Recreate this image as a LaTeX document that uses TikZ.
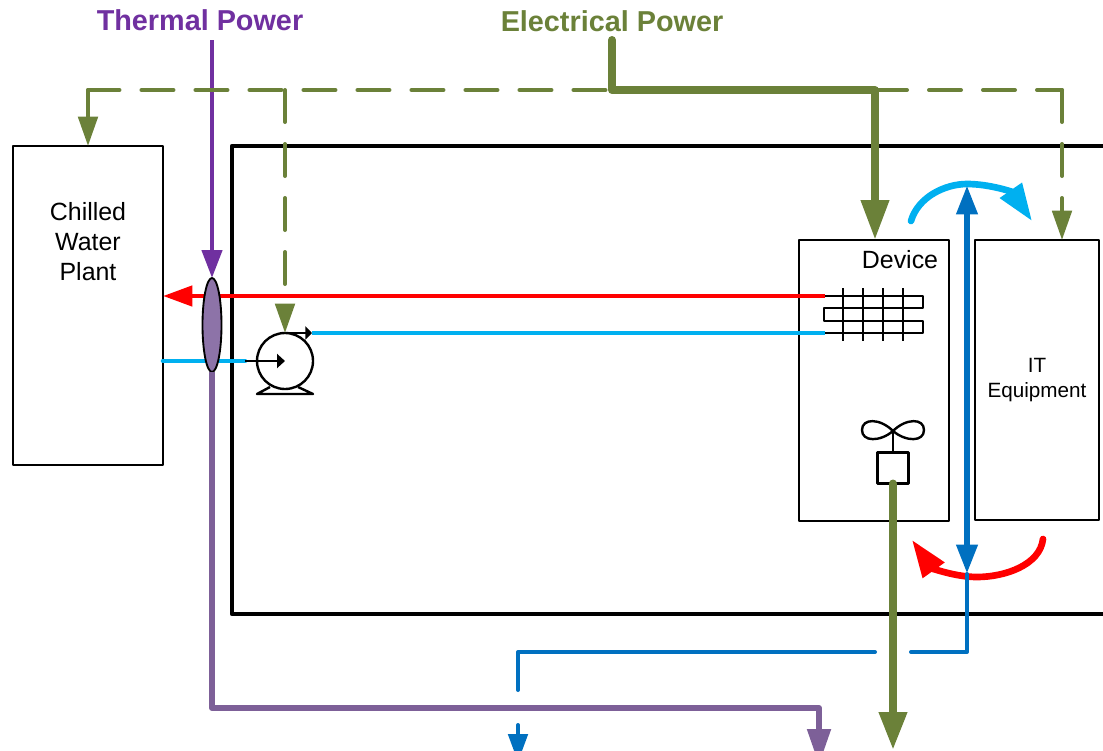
\documentclass[tikz,border=0pt]{standalone}
\usepackage{fontspec}
\setmainfont{Liberation Sans}
\usetikzlibrary{arrows.meta,shapes.geometric}
\definecolor{powergreen}{RGB}{107, 129, 57}
\definecolor{thermpurple}{RGB}{112, 48, 160}
\definecolor{pipepurple}{RGB}{125, 96, 152}
\definecolor{valvepurple}{RGB}{141, 115, 168}
\definecolor{airblue}{RGB}{0, 112, 192}
\definecolor{coldblue}{RGB}{0, 176, 240}
\begin{document}
\begin{tikzpicture}[
    x=0.75pt, y=-0.75pt,
    line join=round,
    box/.style={draw, line width=1.8pt, outer sep=0pt, inner sep=0pt},
    bigtext/.style={font=\fontsize{18.7}{22.5}\selectfont, align=center},
    headtext/.style={font=\fontsize{21.6}{26}\selectfont\bfseries},
    blackline/.style={line width=1.8pt},
    elecbus/.style={draw=powergreen, line width=6pt, line cap=round, -{Triangle[length=30pt,width=20pt]}},
    elecdash/.style={draw=powergreen, line width=3pt, line cap=round, dash pattern=on 24pt off 16.5pt},
    elecdrop/.style={elecdash, -{Triangle[length=22pt,width=14.5pt]}},
    redpipe/.style={draw=red, line width=3.4pt},
    coldpipe/.style={draw=coldblue, line width=3.4pt, line cap=round},
    swirl/.style={line width=5pt, line cap=round},
    airflow/.style={draw=airblue, line cap=round}
]
\useasboundingbox (0,0) rectangle (1103,750);

\node[box, line width=3.4pt, minimum width=658.5pt, minimum height=351pt] (room) at (671,380) {};
\node[box, minimum width=112.5pt, minimum height=239.25pt] (plant) at (88,305.5) {};
\node[box, minimum width=112.5pt, minimum height=210.75pt] (device) at (874,380.5) {};
\node[box, minimum width=93pt, minimum height=210pt, align=center, font=\fontsize{15.5}{18.75}\selectfont] (itequip) at (1037,380) {IT\\Equipment};
\node[bigtext] (plantlabel) at (88,242) {Chilled\\Water\\Plant};
\node[bigtext] (devicelabel) at (900,260) {Device};
\node[headtext, text=thermpurple] (thermal) at (200,20) {Thermal Power};
\node[headtext, text=powergreen] (electrical) at (612,21) {Electrical Power};

\coordinate (thermalin) at (212,40);
\coordinate (elecin) at (612,40);
\coordinate (elecjoin) at (612,90);
\coordinate (devicedrop) at (875,90);
\coordinate (pumpdrop) at (285,90);
\coordinate (plantdrop) at (88,90);
\coordinate (itdrop) at (1062,90);
\coordinate (coilred) at (825,296);
\coordinate (coilcold) at (825,333);
\coordinate (plantcold) at (163,361);
\coordinate (pumpin) at (245,361);

% pipes go under the valve
\draw[redpipe, -{Triangle[length=22pt,width=15pt]}] (coilred) -- (coilred -| plant.east);
\draw[coldpipe] (plantcold) -- (pumpin);

\node[box, circle, minimum size=42pt] (pump) at (285,361) {};
\node[box, ellipse, fill=valvepurple, line width=1.4pt, minimum width=14.25pt, minimum height=70.5pt] (valve) at (212,325) {};
\coordinate (pumpout) at (312,333);
\draw[coldpipe, line cap=butt] (coilcold) -- (pumpout);
\draw[blackline, -{Triangle[length=5pt,width=10pt]}] (pump.north) -- (pumpout);
\draw[blackline, -{Triangle[length=6pt,width=10.5pt]}] (pumpin) -- (pump.center);
\draw[blackline] (270,387) -- (257,394) -- (313,394) -- (298,387);

\draw[draw=thermpurple, line width=3.4pt, -{Triangle[length=21pt,width=15pt]}] (thermalin) -- (valve.north);
\draw[elecdash, dash phase=35.6pt] (elecjoin) -- (plantdrop);
\draw[draw=powergreen, line width=3pt, line cap=round, -{Triangle[length=22pt,width=14.5pt]}] (plantdrop) -- (plant.north);
\draw[elecdrop] (pumpdrop) -- (pump.north);
\draw[elecdash] (devicedrop) -- (itdrop);
\draw[elecdrop] (itdrop) -- (itdrop |- itequip.north);
\draw[elecbus] (elecin) -- (elecjoin) -- (devicedrop) -- (devicedrop |- device.north);

\draw[draw=pipepurple, line width=4.5pt, -{Triangle[length=27pt,width=17pt]}] (valve.south) -- (212,708) -- (819,708) -- (819,765);

% coil
\draw[blackline] (coilred) -- (923,296) -- (923,308) -- (824,308) -- (824,321) -- (923,321) -- (923,333) -- (coilcold);
\foreach \x in {843,863,883,903}
    \draw[blackline] (\x,288) -- (\x,341);

% fan
\node[box, minimum size=23.25pt] (motor) at (893,468) {};
\coordinate (fanhub) at (893,431);
\draw[blackline] (motor.north) -- (fanhub);
\draw[blackline] (fanhub) .. controls (880,418) and (862,418) .. (862,430) .. controls (862,442) and (880,442) .. (fanhub)
    .. controls (906,418) and (924,418) .. (924,430) .. controls (924,442) and (906,442) .. (fanhub);

\coordinate (airtop) at (967,185);
\coordinate (airbottom) at (967,574);
\draw[swirl, draw=coldblue, -{Triangle[length=28pt,width=19pt]}] (911,221) .. controls (918,197) and (945,184) .. (967,184) .. controls (990,184) and (1012,192) .. (1032,221);
\draw[swirl, draw=red, -{Triangle[length=28pt,width=19pt]}] (1043,539) .. controls (1040,565) and (1005,577) .. (977,577) .. controls (955,577) and (932,568) .. (912,540);
\draw[airflow, line width=5pt, {Triangle[length=22pt,width=15pt]}-{Triangle[length=22pt,width=15pt]}] (airtop) -- (airbottom);

\coordinate (airbreak) at (911,652);
\coordinate (airresume) at (875,652);
\coordinate (airdown) at (518,690);
\coordinate (airlow) at (518,725);
\draw[airflow, line width=3pt] (airbottom) -- (967,652) -- (airbreak);
\draw[airflow, line width=3pt] (airresume) -- (518,652) -- (airdown);
\draw[airflow, line width=3pt, -{Triangle[length=21pt,width=14.5pt]}] (airlow) -- (518,762);

\draw[draw=powergreen, line width=6pt, line cap=round, -{Triangle[length=28.5pt,width=20pt]}] (motor.south) -- (893,750);
\end{tikzpicture}
\end{document}
